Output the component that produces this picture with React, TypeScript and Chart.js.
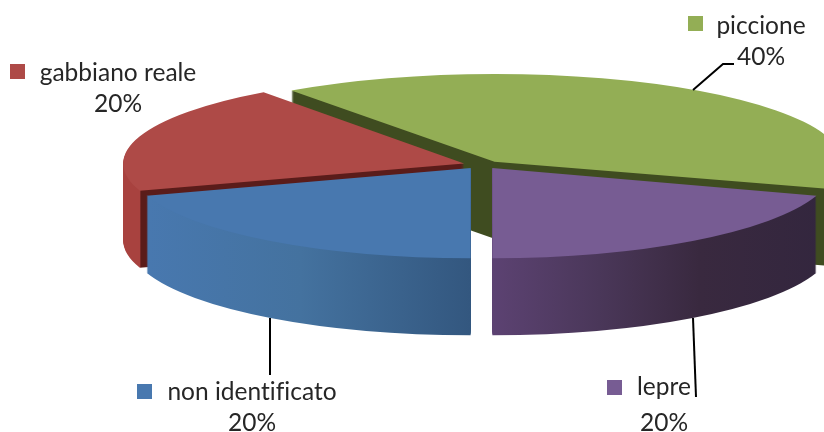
import React, { useEffect, useRef } from "react";
import { Chart, registerables } from "chart.js";

Chart.register(...registerables);

const categories = ["piccione", "lepre", "non identificato", "gabbiano reale"];
const shares = [40, 20, 20, 20];
const percentLabels = ["40%", "20%", "20%", "20%"];
const topColors = ["#93AE55", "#775C93", "#4878AF", "#AE4A47"];

const FONT = "24.5px Lato, 'Open Sans', sans-serif";
const CX = 481.5;
const CY = 164;
const RX = 340;
const RY_BY_SLICE = [86, 90, 90, 88];
const DX_BY_SLICE = [2.5, 0, 0, 0];
const DY_BY_SLICE = [1.5, 0, 0, 1];
const DEPTH = 77;
const ROTATION = 324;
const EXPLODE = [41, 42, 42, 42];
const DRAW_ORDER = [0, 3, 2, 1];

// horizontal shading of every slice's wall, in page x
const wallStops: [number, string][][] = [
  [[0, "#3F4C20"], [824, "#3F4C20"]],
  [[493, "#5C4272"], [600, "#4A3759"], [700, "#39293F"], [824, "#33263E"]],
  [[147, "#4878AF"], [300, "#44729F"], [470, "#33577F"]],
  [[0, "#A8423F"], [139, "#A8423F"], [140, "#5A1C1A"], [824, "#5A1C1A"]],
];

type Label = { i: number; x: number; y1: number; y2: number; sq: number; sy: number };
const labelBoxes: Label[] = [
  { i: 0, x: 761, y1: 34, y2: 65, sq: 688, sy: 16 },
  { i: 1, x: 664, y1: 395, y2: 431, sq: 607, sy: 380 },
  { i: 2, x: 252, y1: 400, y2: 431, sq: 137, sy: 384 },
  { i: 3, x: 118, y1: 81, y2: 112, sq: 10, sy: 64 },
];
const leaders: number[][][] = [
  [[693, 90], [723, 64], [734, 64]],
  [[693, 318], [696, 397]],
  [[270, 318], [270, 375]],
];

const pie3d = {
  id: "pie3d",
  beforeDatasetDraw(chart: any) {
    const ctx = chart.ctx as CanvasRenderingContext2D;
    const arcs = chart.getDatasetMeta(0).data;
    for (const i of DRAW_ORDER) {
      const arc = arcs[i];
      const R = arc.outerRadius;
      const sx = RX / R;
      const sy = RY_BY_SLICE[i] / R;
      const half = (arc.startAngle + arc.endAngle) / 2;
      const fix = 1 - Math.sin(Math.min(Math.PI, arc.circumference));
      const shift = Math.cos(half) * (arc.options.offset / 4) * (1 + fix);
      const toUser = (X: number) => (X - CX - DX_BY_SLICE[i]) / sx + arc.x - shift;
      const place = (d: number) => {
        ctx.translate(CX + DX_BY_SLICE[i], CY + DY_BY_SLICE[i] + d);
        ctx.scale(sx, sy);
        ctx.translate(-arc.x, -arc.y);
      };
      const stops = wallStops[i];
      const x0 = stops[0][0];
      const x1 = stops[stops.length - 1][0];
      const g = ctx.createLinearGradient(toUser(x0), 0, toUser(x1), 0);
      for (const [x, c] of stops) g.addColorStop((x - x0) / (x1 - x0), c);
      const base = arc.options;
      arc.options = { ...base, backgroundColor: g };
      for (let d = DEPTH; d > 0; d--) {
        ctx.save();
        place(d);
        arc.draw(ctx);
        ctx.restore();
      }
      arc.options = base;
      ctx.save();
      place(0);
      arc.draw(ctx);
      ctx.restore();
    }
    return false;
  },
  afterDraw(chart: any) {
    const ctx = chart.ctx as CanvasRenderingContext2D;
    ctx.save();
    ctx.strokeStyle = "#000000";
    ctx.lineWidth = 2;
    for (const line of leaders) {
      ctx.beginPath();
      line.forEach(([x, y], k) => (k ? ctx.lineTo(x, y) : ctx.moveTo(x, y)));
      ctx.stroke();
    }
    ctx.font = FONT;
    ctx.textAlign = "center";
    ctx.textBaseline = "alphabetic";
    (ctx as any).letterSpacing = "0.01px";
    for (const b of labelBoxes) {
      ctx.fillStyle = topColors[b.i];
      ctx.fillRect(b.sq, b.sy, 15, 15);
      ctx.fillStyle = "#262626";
      ctx.fillText(categories[b.i], b.x, b.y1);
      ctx.fillText(percentLabels[b.i], b.x, b.y2);
    }
    ctx.restore();
  },
};

export default function App() {
  const ref = useRef<HTMLCanvasElement>(null);
  useEffect(() => {
    const chart = new Chart(ref.current!, {
      type: "pie",
      data: {
        labels: categories,
        datasets: [
          {
            data: shares,
            backgroundColor: topColors,
            borderWidth: 0,
            offset: EXPLODE,
          },
        ],
      },
      options: {
        responsive: false,
        animation: false,
        devicePixelRatio: 1,
        rotation: ROTATION,
        plugins: { legend: { display: false }, tooltip: { enabled: false } },
      },
      plugins: [pie3d],
    } as any);
    return () => chart.destroy();
  }, []);
  return (
    <canvas
      ref={ref}
      width={824}
      height={432}
      style={{ position: "fixed", left: 0, top: 0, display: "block", background: "#fff", filter: "blur(0.4px)" }}
    />
  );
}
